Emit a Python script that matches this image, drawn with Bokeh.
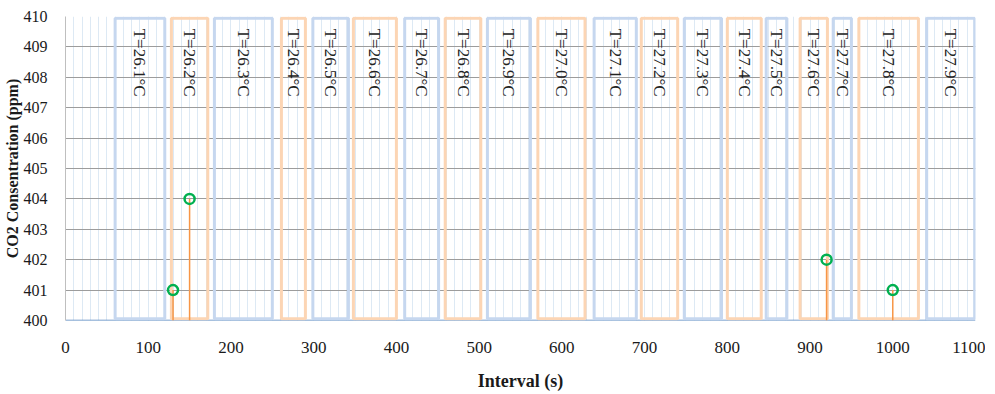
import math
from bokeh.plotting import figure
from bokeh.models import ColumnDataSource, SingleIntervalTicker, Range1d
from bokeh.core.properties import value
from bokeh.embed import file_html
from bokeh.resources import INLINE

# ---- data ----
temps = ["26.1", "26.2", "26.3", "26.4", "26.5", "26.6", "26.7", "26.8", "26.9", "27.0",
         "27.1", "27.2", "27.3", "27.4", "27.5", "27.6", "27.7", "27.8", "27.9"]
box_start = [60, 128, 180, 261, 299, 348, 410, 459, 510, 571,
             639, 696, 748, 800, 847, 888, 928, 959, 1041]
box_end = [120, 172, 250, 290, 342, 400, 451, 502, 562, 628,
           690, 740, 793, 841, 872, 921, 950, 1031, 1099]
base_x = [0, 1100]
base_y = [400, 400]
peak_x = [130, 150, 920, 1000]
peak_y = [401, 404, 402, 401]

BLUE_BOX = "#c6d7ef"
ORANGE_BOX = "#fcd5b4"
box_colors = [BLUE_BOX if i % 2 == 0 else ORANGE_BOX for i in range(len(temps))]
labels = ["T=" + t + "°C" for t in temps]
centers = [(a + b) / 2 for a, b in zip(box_start, box_end)]

p = figure(frame_width=910, frame_height=304,
           x_range=Range1d(0, 1100), y_range=Range1d(400, 410),
           output_backend="svg", toolbar_location=None,
           min_border_left=59, min_border_right=10,
           min_border_top=16, min_border_bottom=58)
p.outline_line_color = None
p.background_fill_color = "white"

# axes
p.xaxis.ticker = SingleIntervalTicker(interval=100, num_minor_ticks=10)
p.yaxis.ticker = SingleIntervalTicker(interval=1, num_minor_ticks=0)
for ax in (p.xaxis, p.yaxis):
    ax.major_tick_line_color = None
    ax.minor_tick_line_color = None
    ax.major_label_text_font = "Liberation Serif"
    ax.major_label_text_font_size = "16px"
    ax.major_label_text_color = "#1a1a1a"
    ax.axis_label_text_font = "Liberation Serif"
    ax.axis_label_text_font_style = "bold"
    ax.axis_label_text_font_size = "16px"
    ax.axis_label_text_color = "#1a1a1a"
p.xaxis.major_label_text_font_size = "17px"
p.xaxis.axis_label_text_font_size = "18px"
p.xaxis.axis_line_color = None
p.yaxis.axis_line_color = "#bfbfbf"
p.xaxis.major_label_standoff = 15
p.xaxis.axis_label_standoff = 15
p.yaxis.major_label_standoff = 12
p.yaxis.axis_label_standoff = 0
p.xaxis.axis_label = "Interval (s)"
p.yaxis.axis_label = "CO2 Consentration (ppm)"

# grids
p.xgrid.grid_line_color = "#dde9f4"
p.xgrid.minor_grid_line_color = "#dde9f4"
p.xgrid.grid_line_width = 1
p.ygrid.grid_line_color = "#9c9c9c"
p.ygrid.grid_line_width = 1.2

# baseline series
p.line(base_x, base_y, line_color="#4f81bd", line_width=1.5)

# temperature boxes
box_src = ColumnDataSource(dict(left=box_start, right=box_end, color=box_colors,
                                bottom=[400.06] * len(temps), top=[409.94] * len(temps)))
p.quad(left="left", right="right", bottom="bottom", top="top", source=box_src,
       fill_color=None, line_color="color", line_width=3)

# stems and markers
p.segment(x0=peak_x, y0=[400] * len(peak_x), x1=peak_x, y1=peak_y,
          line_color="#f79646", line_width=1.5)
p.scatter(peak_x, peak_y, size=10, marker="circle", fill_color=None,
          line_color="#00b050", line_width=2.5)

# labels
p.text(x=centers, y=[409.6] * len(temps), text=labels, angle=-math.pi / 2,
       text_align="left", text_baseline="middle",
       text_font=value("Liberation Serif"), text_font_size="17px",
       text_color="#222222")

open("out.html", "w").write(file_html(p, INLINE))
